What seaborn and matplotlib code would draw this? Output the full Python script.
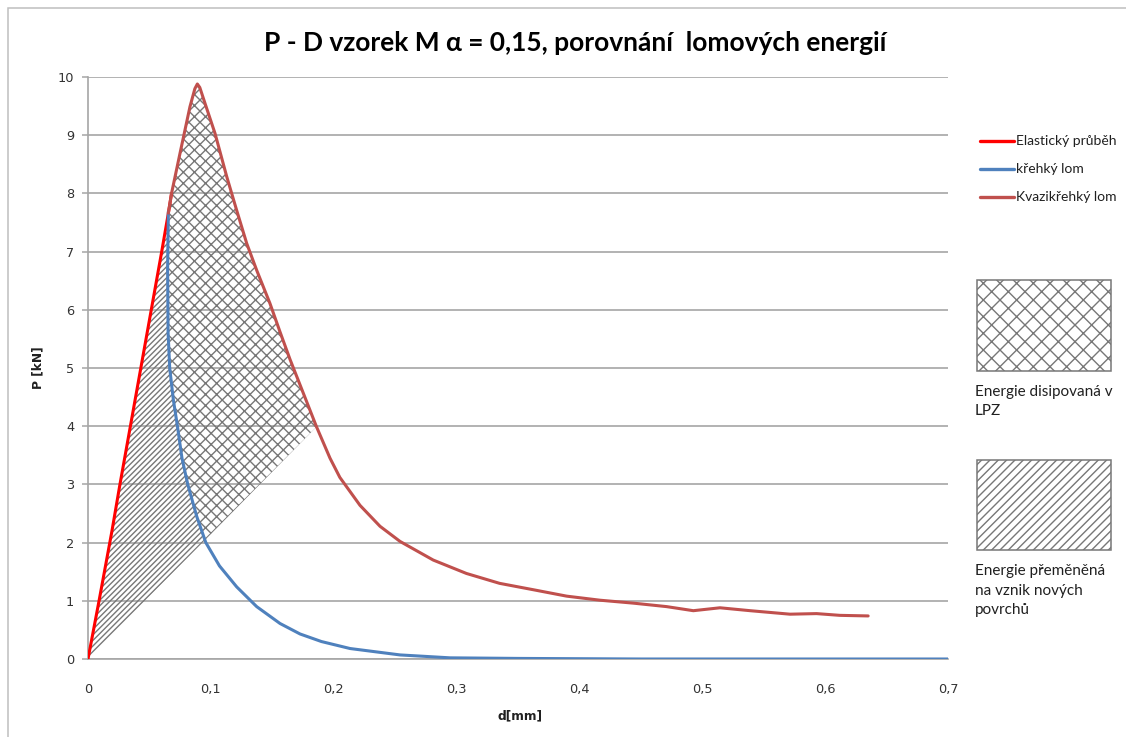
import numpy as np
import pandas as pd
import matplotlib
matplotlib.use("Agg")
import matplotlib.pyplot as plt
import seaborn as sns
from matplotlib.patches import Rectangle
from matplotlib.lines import Line2D

# ---- texts -------------------------------------------------------------
title = "P - D vzorek M α = 0,15, porovnání  lomových energií"
x_label = "d[mm]"
y_label = "P [kN]"
series_names = ["Elastický průběh", "křehký lom", "Kvazikřehký lom"]
area_names = ["Energie disipovaná v\nLPZ", "Energie přeměněná\nna vznik nových\npovrchů"]

x_ticks = [0.0, 0.1, 0.2, 0.3, 0.4, 0.5, 0.6, 0.7]
x_tick_labels = ["0", "0,1", "0,2", "0,3", "0,4", "0,5", "0,6", "0,7"]
y_ticks = [0, 1, 2, 3, 4, 5, 6, 7, 8, 9, 10]

# ---- measured curves ------------------------------------------------------
elastic_d = [0.0, 0.009, 0.0195, 0.026, 0.0345, 0.043, 0.0515, 0.060, 0.0654, 0.068]
elastic_p = [0.0, 1.00, 2.20, 3.00, 4.00, 5.00, 6.00, 7.00, 7.66, 8.00]

brittle_d = [0.0654, 0.0648, 0.0652, 0.0665, 0.0695, 0.0728, 0.0765, 0.0812, 0.0885,
             0.0959, 0.107, 0.121, 0.1373, 0.1563, 0.1726, 0.190, 0.2133, 0.254,
             0.2947, 0.35, 0.45, 0.55, 0.70]
brittle_p = [7.69, 6.70, 5.60, 5.00, 4.45, 4.00, 3.45, 3.00, 2.45,
             2.00, 1.60, 1.24, 0.90, 0.61, 0.43, 0.30, 0.18, 0.07,
             0.02, 0.01, 0.0, 0.0, 0.0]

quasi_d = [0.0654, 0.068, 0.0749, 0.083, 0.087, 0.089, 0.091, 0.0952, 0.1034, 0.1129,
           0.121, 0.1292, 0.1373, 0.1481, 0.1563, 0.1644, 0.178, 0.186, 0.197, 0.205,
           0.2214, 0.2377, 0.254, 0.281, 0.308, 0.335, 0.3625, 0.3896, 0.4168, 0.4438,
           0.471, 0.4927, 0.5144, 0.539, 0.5714, 0.593, 0.612, 0.635]
quasi_p = [7.66, 8.00, 8.69, 9.49, 9.80, 9.88, 9.82, 9.55, 9.03, 8.29,
           7.71, 7.14, 6.68, 6.11, 5.62, 5.15, 4.42, 3.99, 3.45, 3.12,
           2.64, 2.28, 2.02, 1.70, 1.47, 1.30, 1.19, 1.08, 1.01, 0.96,
           0.90, 0.83, 0.88, 0.83, 0.77, 0.78, 0.75, 0.74]

# point of the softening branch where the unloading line from the origin ends
unload_index = 17

# ---- figure ---------------------------------------------------------------
W, H, DPI = 1126, 737, 100
sns.set_theme(style="white")
plt.rcParams["font.family"] = ["Lato", "DejaVu Sans"]
plt.rcParams["hatch.linewidth"] = 1.0

fig = plt.figure(figsize=(W / DPI, H / DPI), dpi=DPI)
fig.patch.set_facecolor("white")


def fx(px):
    return px / W


def fy(py):
    return 1 - py / H


ax = fig.add_axes([fx(88), fy(659), fx(948) - fx(88), fy(77) - fy(659)])

grid_c = "#a6a6a6"
hatch_c = "#777777"
red_c = "#ff0000"
blue_c = "#4f81bd"
brown_c = "#c0504d"

# hatched energy areas
e_d, e_p = np.array(elastic_d), np.array(elastic_p)
b_d, b_p = np.array(brittle_d), np.array(brittle_p)
q_d, q_p = np.array(quasi_d), np.array(quasi_p)
k = q_p[unload_index] / q_d[unload_index]

# intersection of the brittle branch with the unloading line P = k*d
diff = b_p - k * b_d
j = int(np.where((diff[:-1] > 0) & (diff[1:] <= 0))[0][0])
t = diff[j] / (diff[j] - diff[j + 1])
xi_d = b_d[j] + t * (b_d[j + 1] - b_d[j])
xi_p = b_p[j] + t * (b_p[j + 1] - b_p[j])

cross_x = list(b_d[:j + 1]) + [xi_d, q_d[unload_index]] + list(q_d[unload_index::-1])
cross_y = list(b_p[:j + 1]) + [xi_p, q_p[unload_index]] + list(q_p[unload_index::-1])
ax.fill(cross_x, cross_y, facecolor="none", edgecolor=hatch_c, hatch="xxx",
        linewidth=0, zorder=1.5)

mask = e_p < b_p[0]
single_x = [0.0] + list(e_d[mask][1:]) + list(b_d[:j + 1]) + [xi_d, 0.0]
single_y = [0.0] + list(e_p[mask][1:]) + list(b_p[:j + 1]) + [xi_p, 0.0]
ax.fill(single_x, single_y, facecolor="none", edgecolor=hatch_c, hatch="//////",
        linewidth=0, zorder=1.4)

# curves
lw = 2.2
sns.lineplot(x=elastic_d, y=elastic_p, ax=ax, color=red_c, lw=lw, sort=False,
             estimator=None, zorder=3)
sns.lineplot(x=brittle_d, y=brittle_p, ax=ax, color=blue_c, lw=lw, sort=False,
             estimator=None, zorder=3.1)
sns.lineplot(x=quasi_d, y=quasi_p, ax=ax, color=brown_c, lw=lw, sort=False,
             estimator=None, zorder=3.2)

ax.set_xlim(0, 0.7)
ax.set_ylim(0, 10)
ax.set_xticks(x_ticks)
ax.set_xticklabels(x_tick_labels)
ax.set_yticks(y_ticks)
ax.yaxis.grid(True, color=grid_c, lw=1.2)
ax.set_axisbelow(True)
for s in ["top", "right"]:
    ax.spines[s].set_visible(False)
for s in ["left", "bottom"]:
    ax.spines[s].set_color(grid_c)
    ax.spines[s].set_linewidth(1.2)
ax.tick_params(axis="y", length=4, width=1.1, color=grid_c, pad=6,
               labelsize=9.3, labelcolor="#333333", left=True)
ax.tick_params(axis="x", length=0, pad=17, labelsize=9.3, labelcolor="#333333")
for lab in ax.get_xticklabels() + ax.get_yticklabels():
    lab.set_family("DejaVu Sans")

ax.set_xlabel("")
ax.set_ylabel("")
fig.text(fx(520), fy(716), x_label, ha="center", va="center", fontsize=8.8,
         fontweight="bold", family="DejaVu Sans", color="#202020")
fig.text(fx(38), fy(368), y_label, ha="center", va="center", fontsize=8.8,
         fontweight="bold", family="DejaVu Sans", rotation=90, color="#202020")

fig.text(fx(575), fy(43), title, ha="center", va="center", fontsize=19,
         fontweight="bold", color="#000000")

# legend of the curves
for i, (name, c) in enumerate(zip(series_names, [red_c, blue_c, brown_c])):
    y = fy(141 + 28 * i)
    fig.add_artist(Line2D([fx(980), fx(1014)], [y, y], color=c, lw=2.4,
                          transform=fig.transFigure))
    fig.text(fx(1016), y, name, ha="left", va="center", fontsize=10,
             color="#202020")

# legend of the hatched areas
for (top, bottom, hatch, name, ty) in [(280, 371, "xx", area_names[0], 385),
                                       (460, 550, "////", area_names[1], 564)]:
    fig.add_artist(Rectangle((fx(977), fy(bottom)), fx(1111) - fx(977),
                             fy(top) - fy(bottom), transform=fig.transFigure,
                             facecolor="white", edgecolor=hatch_c, hatch=hatch,
                             lw=1.1))
    fig.text(fx(975), fy(ty), name, ha="left", va="top", fontsize=11,
             color="#202020", linespacing=1.5)

# outer chart frame
fig.add_artist(Rectangle((fx(8), -0.2), 1.5, fy(8) + 0.2,
                         transform=fig.transFigure, facecolor="none",
                         edgecolor="#bfbfbf", lw=1.1))

fig.savefig("out.png", dpi=DPI)
